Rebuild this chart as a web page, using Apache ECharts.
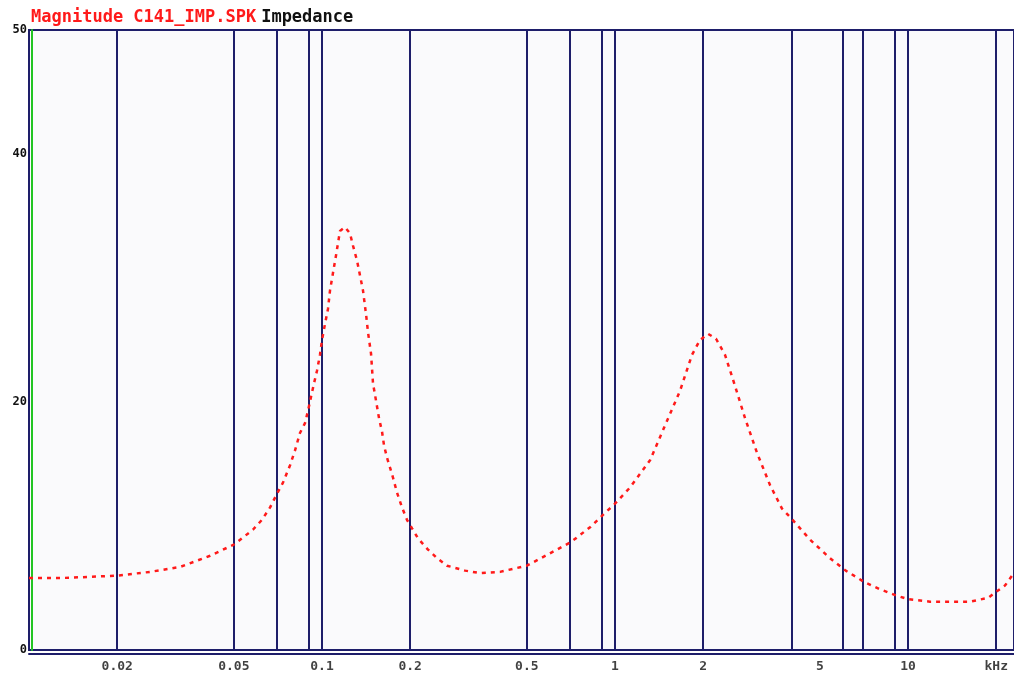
<!DOCTYPE html>
<html>
<head>
<meta charset="utf-8">
<script src="https://cdn.jsdelivr.net/npm/echarts@6/dist/echarts.min.js"></script>
<style>
html,body{margin:0;padding:0;background:#ffffff;}
#c{width:1014px;height:675px;}
</style>
</head>
<body>
<div id="c"></div>
<script>
// Impedance magnitude curve: frequency (kHz) and impedance (ohm)
const freqs = [0.01,0.01276,0.01615,0.02,0.0259,0.0328,0.0415,0.05,0.0581,0.0624,0.0665,0.0702,0.0736,0.0778,0.0809,0.0841,0.0875,0.0896,0.0917,0.0939,0.0961,0.0984,0.1,0.1024,0.1048,0.1065,0.109,0.1116,0.1152,0.1198,0.1246,0.1276,0.1317,0.138,0.1413,0.1436,0.147,0.1493,0.1529,0.1565,0.1603,0.1628,0.1667,0.1707,0.1747,0.1803,0.1875,0.195,0.203,0.2127,0.23,0.247,0.267,0.308,0.346,0.405,0.5,0.6,0.707,0.822,0.91,1.0,1.125,1.317,1.481,1.667,1.831,1.95,2.077,2.212,2.374,2.568,2.778,3.052,3.381,3.715,4.0,4.63,5.42,6.13,7.07,8.02,9.1,10,11.89,13.9,16.28,18.75,20,21.43,22.82];
const impedance = [5.8,5.8,5.9,6.0,6.3,6.7,7.6,8.5,9.7,10.5,11.5,12.6,13.5,14.9,16.1,17.5,18.3,19.3,20.4,21.5,22.5,23.8,25.0,26.3,27.5,29.0,30.4,31.8,33.8,34.1,33.6,32.6,31.4,29.0,27.1,25.6,23.9,21.5,20.1,18.7,17.6,16.5,15.5,14.7,13.9,12.7,11.5,10.5,9.8,9.0,8.1,7.4,6.8,6.4,6.2,6.3,6.8,7.8,8.7,9.9,10.9,11.8,13.1,15.3,18.1,20.9,23.8,25.0,25.5,25.1,23.8,21.3,18.7,15.9,13.3,11.4,10.6,8.9,7.4,6.4,5.5,4.9,4.4,4.1,3.9,3.9,3.9,4.2,4.7,5.2,6.1];
// Vertical marker lines (kHz)
const markerFreqs = [0.02,0.05,0.07,0.09,0.1,0.2,0.5,0.7,0.9,1,2,4,6,7,9,10,20];
// X tick labels
const xTickFreqs = [0.02,0.05,0.1,0.2,0.5,1,2,5,10,20];
const xTickLabels = ['0.02','0.05','0.1','0.2','0.5','1','2','5','10','kHz'];
// Y tick labels
const yTickValues = [0,20,40,50];
const titleRed = 'Magnitude C141_IMP.SPK';
const titleBlack = 'Impedance';

const navy = '#1e1e6a';
const font = '"DejaVu Sans Mono", monospace';

const chart = echarts.init(document.getElementById('c'), null, {renderer:'canvas'});
chart.setOption({
  animation:false,
  backgroundColor:'#ffffff',
  title:{
    text:'{r|'+titleRed+'} {k|'+titleBlack+'}',
    left:26, top:4,
    textStyle:{
      rich:{
        r:{color:'#ff1a1a', fontFamily:font, fontSize:17, fontWeight:'bold'},
        k:{color:'#111111', fontFamily:font, fontSize:17, fontWeight:'bold'}
      }
    }
  },
  grid:{
    left:29, right:0, top:30, bottom:25,
    show:true, backgroundColor:'#fafafc', borderColor:navy, borderWidth:2,
    containLabel:false
  },
  xAxis:{
    type:'log', logBase:10, min:0.01, max:23,
    axisLine:{show:true, onZero:false, lineStyle:{color:navy, width:2}},
    offset:4,
    axisTick:{show:false},
    axisLabel:{show:false},
    splitLine:{show:false},
    minorSplitLine:{show:false}
  },
  yAxis:{
    type:'value', min:0, max:50, interval:10,
    offset:-3,
    axisLine:{show:true, lineStyle:{color:'#22c422', width:2}},
    axisTick:{show:false},
    splitLine:{show:false},
    axisLabel:{
      margin:5, color:'#111111', fontFamily:font, fontSize:12, fontWeight:'bold',
      formatter:function(v){ return yTickValues.indexOf(v) >= 0 ? String(v) : ''; }
    }
  },
  series:[
    {
      type:'line',
      data:freqs.map((f,i)=>[f, impedance[i]]),
      showSymbol:false,
      smooth:false,
      lineStyle:{color:'#ff1a1a', width:2.5, type:[4,5]},
      z:5,
      markLine:{
        silent:true,
        symbol:['none','none'],
        label:{show:false},
        lineStyle:{color:navy, width:2, type:'solid'},
        data:markerFreqs.map(f=>({xAxis:f}))
      }
    },
    {
      type:'scatter',
      data:xTickFreqs.map(f=>[f,0]),
      symbolSize:0,
      clip:false,
      silent:true,
      label:{
        show:true, position:'bottom', distance:10,
        color:'#111111', fontFamily:font, fontSize:13, fontWeight:'bold',
        formatter:function(p){ return xTickLabels[p.dataIndex]; }
      }
    }
  ]
});
</script>
</body>
</html>
